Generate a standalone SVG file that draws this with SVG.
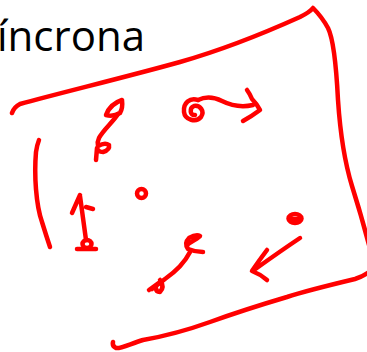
<svg xmlns="http://www.w3.org/2000/svg" width="367" height="352" viewBox="0 0 367 352">
<style>
.ink{fill:none;stroke:#ff0000;stroke-width:4.5;stroke-linecap:round;stroke-linejoin:round}
.title{font-family:"Open Sans","Liberation Sans",sans-serif;font-size:42px;fill:#000}
</style>
<rect width="367" height="352" fill="#fff"/>
<text class="title" x="-3" y="51">íncrona</text>
<g id="frame" class="ink">
<path d="M12,113 Q14,107 20,104 C60,93 130,76 180,62 C215,52 260,35 300,17 Q310,12 313,8 Q322,17 328,28 C333,38 336,60 338,100 C340,130 344,160 352,186 C358,205 363,222 369,245"/>
<path d="M369,272 Q362,277 355,279 C330,285 305,291 287,297 C260,305 235,313 210,322 C185,331 160,337 143,340 C130,344 120,349 116,348 Q112,346 113,342"/>
<path d="M39,140 Q37,145 36,152 C34,175 36,205 42,222 Q46,235 50,247"/>
</g>
<g id="marks" class="ink">
<path d="M106,115 Q110,104 122,100 Q123,108 120,113 Q113,117 106,115 Z"/>
<path d="M118,114 C113,122 103,130 99,138 Q97,142 98,146 Q105,142 109,145 Q110,150 103,152 Q98,152 97,148 L96,160"/>
<path d="M198,100 C190,97 183,103 184,112 C185,120 196,123 201,117 C205,111 200,105 194,106 C189,108 190,116 195,115"/>
<path d="M198,100 C206,96 214,97 222,101 C230,105 240,108 253,105"/>
<path d="M247,90 Q250,94 252,99 Q257,104 260,110 Q252,116 243,121"/>
<ellipse cx="141.5" cy="193.5" rx="4.5" ry="4.5"/>
<path d="M86,240 L80,196 M72,213 L80,195 M86,207 L93,209"/>
<path d="M77,249 L96,249"/>
<ellipse cx="87" cy="244" rx="4.5" ry="4"/>
<ellipse cx="295" cy="218.5" rx="6.5" ry="4.5"/>
<path d="M289,219 L301,219"/>
<path d="M300,238 C285,248 268,260 254,270 M267,250 Q258,262 252,271 Q260,274 267,280"/>
<path d="M187,245 C192,241 199,238 200,236 Q196,234 189,238 Q184,243 188,249 Q195,252 203,252"/>
<path d="M190,252 C185,262 175,272 165,279 L152,289 M149,290 L160,282 M160,280 Q165,287 160,292 Q156,292 156,288"/>
</g>
</svg>
